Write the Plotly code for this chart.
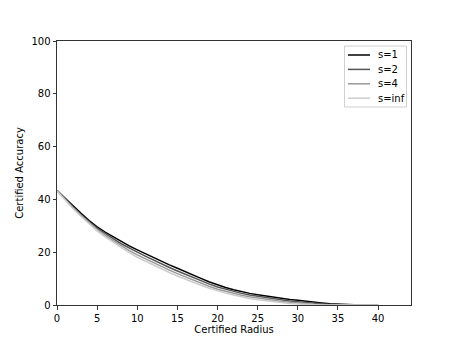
import plotly.graph_objects as go

radius = list(range(0, 41))
acc_s1 = [43.4, 40.4, 37.4, 34.7, 32.0, 29.6, 27.6, 25.8, 24.0, 22.4, 20.9, 19.4, 18.0, 16.6, 15.2, 13.9,
          12.5, 11.2, 10.0, 8.7, 7.5, 6.6, 5.8, 5.0, 4.4, 3.9, 3.4, 2.9, 2.5, 2.1, 1.8, 1.4, 1.1, 0.8,
          0.5, 0.3, 0.2, 0.1, 0.05, 0.0, 0.0]
acc_s2 = [43.4, 40.2, 37.1, 34.3, 31.5, 29.1, 27.0, 25.1, 23.2, 21.5, 20.0, 18.5, 17.0, 15.6, 14.2, 12.9,
          11.6, 10.3, 9.1, 7.9, 6.8, 5.9, 5.1, 4.4, 3.8, 3.3, 2.8, 2.3, 1.9, 1.5, 1.2, 0.9, 0.6, 0.4,
          0.2, 0.1, 0.05, 0.0, 0.0, 0.0, 0.0]
acc_s4 = [43.3, 40.0, 36.8, 33.9, 31.1, 28.6, 26.4, 24.4, 22.4, 20.6, 19.0, 17.5, 16.0, 14.6, 13.2, 11.9,
          10.6, 9.4, 8.2, 7.0, 6.0, 5.2, 4.4, 3.7, 3.1, 2.6, 2.1, 1.7, 1.3, 1.0, 0.7, 0.45, 0.25, 0.1,
          0.05, 0.0, 0.0, 0.0, 0.0, 0.0, 0.0]
acc_sinf = [43.2, 39.8, 36.5, 33.5, 30.7, 28.1, 25.8, 23.7, 21.7, 19.8, 18.1, 16.6, 15.1, 13.7, 12.3, 11.0,
            9.7, 8.5, 7.4, 6.3, 5.3, 4.5, 3.8, 3.1, 2.5, 2.0, 1.6, 1.2, 0.9, 0.6, 0.4, 0.2, 0.1, 0.0,
            0.0, 0.0, 0.0, 0.0, 0.0, 0.0, 0.0]

series_names = ["s=1", "s=2", "s=4", "s=inf"]
series_values = [acc_s1, acc_s2, acc_s4, acc_sinf]
series_colors = ["#000000", "#555555", "#999999", "#cccccc"]

# page has an 8px body margin; compensate so plot area matches reference pixels
W, H = 449, 335
ML, MR, MT, MB = 49, 46, 33, 38
PW, PH = W - ML - MR, H - MT - MB


def px_x(p):  # page pixel -> paper x
    return (p - 8 - ML) / PW


def px_y(p):  # page pixel -> paper y
    return (H - MB - (p - 8)) / PH


fig = go.Figure()
for name, ys, col in zip(series_names, series_values, series_colors):
    fig.add_trace(go.Scatter(x=radius, y=ys, mode="lines", name=name, showlegend=False,
                             line=dict(color=col, width=1.5)))

shapes = [dict(type="rect", xref="paper", yref="paper",
               x0=px_x(344.5), x1=px_x(406.5), y0=px_y(107), y1=px_y(46),
               line=dict(color="#d0d0d0", width=1), fillcolor="rgba(255,255,255,0.8)", layer="above")]
annotations = []
for i, (name, col) in enumerate(zip(series_names, series_colors)):
    yy = px_y(55 + i * 14.4)
    shapes.append(dict(type="line", xref="paper", yref="paper", x0=px_x(348), x1=px_x(370),
                       y0=yy, y1=yy, line=dict(color=col, width=1.5), layer="above"))
    annotations.append(dict(text=name, xref="paper", yref="paper", x=px_x(375.5), y=yy,
                            xanchor="left", yanchor="middle", showarrow=False,
                            font=dict(family="DejaVu Sans", size=10, color="black")))

axis_common = dict(showline=True, linecolor="#333333", linewidth=1, mirror=True,
                   ticks="outside", ticklen=3.5, tickcolor="#333333", showgrid=False,
                   zeroline=False, automargin=False,
                   tickfont=dict(family="DejaVu Sans", size=10, color="black"))
fig.update_layout(
    width=W, height=H,
    margin=dict(l=ML, r=MR, t=MT, b=MB, autoexpand=False),
    plot_bgcolor="white", paper_bgcolor="white",
    font=dict(family="DejaVu Sans", size=10, color="black"),
    xaxis=dict(range=[0, 44.1], tickvals=[0, 5, 10, 15, 20, 25, 30, 35, 40],
               title=dict(text="Certified Radius", standoff=3, font=dict(size=10)), **axis_common),
    yaxis=dict(range=[0, 100], tickvals=[0, 20, 40, 60, 80, 100],
               title=dict(text="Certified Accuracy", standoff=5, font=dict(size=10)), **axis_common),
    shapes=shapes,
    annotations=annotations,
    showlegend=False,
)
fig.write_html("out.html")
